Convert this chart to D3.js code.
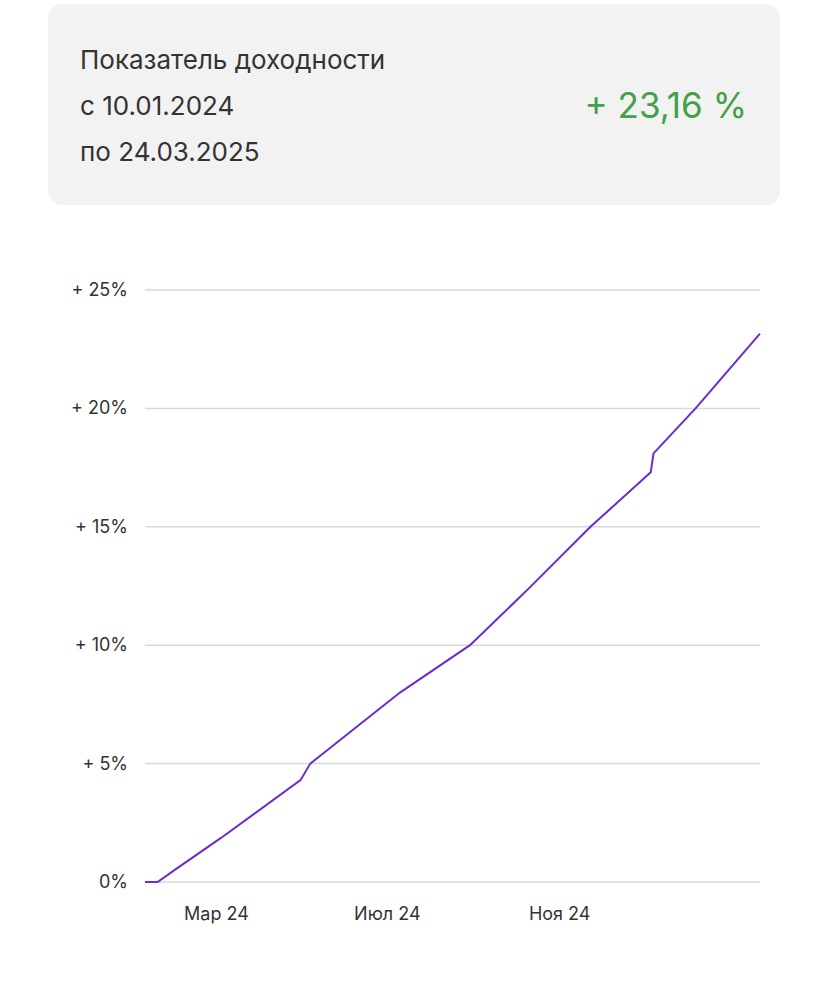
<!DOCTYPE html>
<html><head><meta charset="utf-8">
<script src="https://cdn.jsdelivr.net/npm/d3@7"></script>
<style>body{margin:0;background:#fff;font-family:Inter,"Noto Sans",sans-serif}</style>
</head><body><svg id="c" width="828" height="1001"></svg>
<script>
const dates = ["2024-01-10","2024-01-19","2024-01-31","2024-03-04","2024-04-30","2024-05-07","2024-07-10","2024-08-29","2024-10-10","2024-11-23","2025-01-05","2025-01-07","2025-02-06","2025-03-24"];
const values = [0,0,0.5,1.85,4.3,5.0,8.0,10.0,12.4,15.0,17.3,18.1,20.0,23.16];
const yTicks = [0,5,10,15,20,25];
const yTickLabels = ["0%","+ 5%","+ 10%","+ 15%","+ 20%","+ 25%"];
const xTicks = ["2024-03-01","2024-07-01","2024-11-01"];
const xTickLabels = ["Мар 24","Июл 24","Ноя 24"];

const svg = d3.select("#c");
const p = d3.timeParse("%Y-%m-%d");
svg.append("rect").attr("x",48).attr("y",4).attr("width",732).attr("height",201).attr("rx",14).attr("fill","#f2f2f2");
["Показатель доходности","с 10.01.2024","по 24.03.2025"].forEach((t,i)=>
  svg.append("text").attr("x",80).attr("y",69+i*46).attr("font-size",26).attr("fill","#333").text(t));
svg.append("text").attr("x",747).attr("y",118).attr("text-anchor","end").attr("font-size",35).attr("fill","#43a047").text("+ 23,16 %");

const x = d3.scaleTime().domain([p(dates[0]),p(dates[dates.length-1])]).range([145,760]);
const y = d3.scaleLinear().domain([0,25]).range([882,290]);
const g = svg.append("g");
yTicks.forEach((v,i)=>{
  g.append("line").attr("x1",145).attr("x2",760).attr("y1",y(v)).attr("y2",y(v)).attr("stroke","#d9d7e0").attr("stroke-width",1.5);
  g.append("text").attr("x",128).attr("y",y(v)+6).attr("text-anchor","end").attr("font-size",18).attr("fill","#333").text(yTickLabels[i]);
});
xTicks.forEach((d,i)=>g.append("text").attr("x",x(p(d))).attr("y",920).attr("text-anchor","middle").attr("font-size",18).attr("fill","#333").text(xTickLabels[i]));
const line = d3.line().x((d,i)=>x(p(dates[i]))).y(d=>y(d)).curve(d3.curveLinear);
svg.append("path").datum(values).attr("d",line).attr("fill","none").attr("stroke","#6a2bd0").attr("stroke-width",2);
</script></body></html>
